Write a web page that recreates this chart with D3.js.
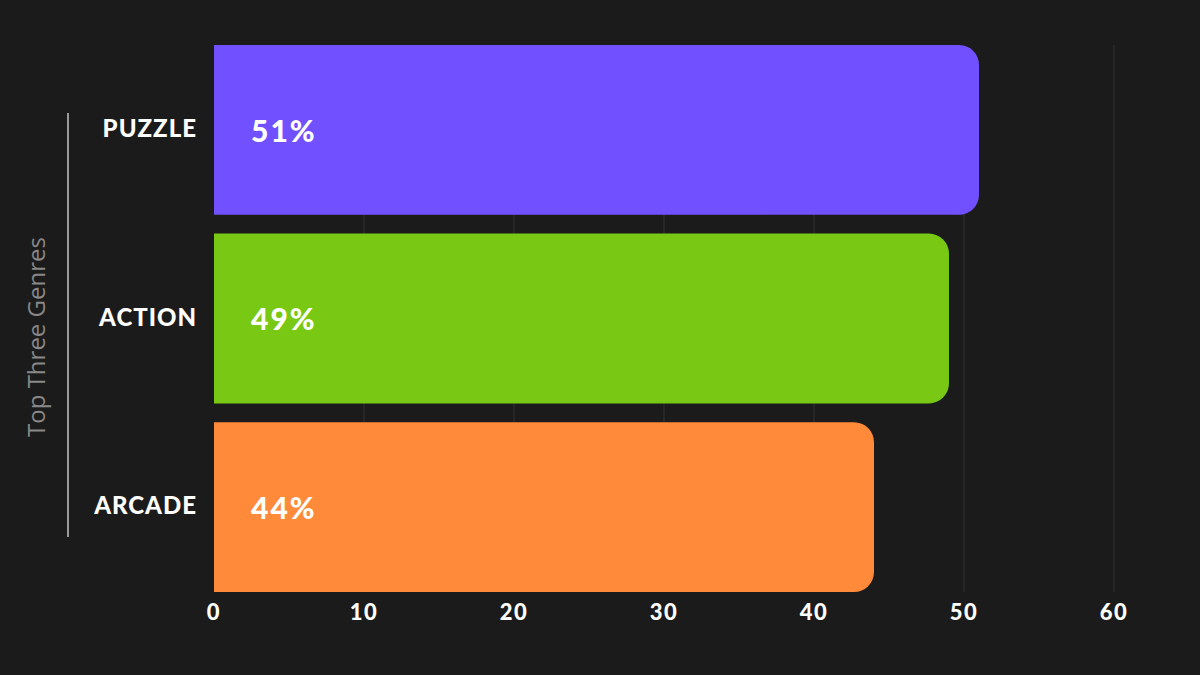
<!DOCTYPE html>
<html><head><meta charset="utf-8">
<script src="https://cdn.jsdelivr.net/npm/d3@7"></script>
<style>html,body{margin:0;padding:0;background:#1b1b1b;}svg{display:block;}</style>
</head><body>
<svg id="c" width="1200" height="675"></svg>
<script>
const categories = ["PUZZLE", "ACTION", "ARCADE"];
const values = [51, 49, 44];
const colors = ["#7151ff", "#78c814", "#ff8a3a"];
const xTicks = [0, 10, 20, 30, 40, 50, 60];
const axisTitle = "Top Three Genres";

const svg = d3.select("#c");
svg.append("rect").attr("width",1200).attr("height",675).attr("fill","#1b1b1b");
const m = {left:214, right:86, top:45, bottom:83};
const W = 1200, H = 675;
const x = d3.scaleLinear().domain([0,60]).range([m.left, W-m.right]);
const y = d3.scaleBand().domain(categories).range([m.top, H-m.bottom]).paddingInner(0.1).paddingOuter(0);

// grid
svg.append("g").selectAll("line").data(xTicks.filter(t=>t>0)).join("line")
  .attr("x1",d=>x(d)).attr("x2",d=>x(d)).attr("y1",m.top).attr("y2",H-m.bottom)
  .attr("stroke","#333").attr("stroke-width",1);

// bars with rounded right corners
const r = 20;
function barPath(d,i){
  const x0 = x(0), x1 = x(values[i]), y0 = y(d), h = y.bandwidth();
  return `M${x0},${y0}H${x1-r}A${r},${r} 0 0 1 ${x1},${y0+r}V${y0+h-r}A${r},${r} 0 0 1 ${x1-r},${y0+h}H${x0}Z`;
}
svg.append("g").selectAll("path").data(categories).join("path")
  .attr("d",barPath).attr("fill",(d,i)=>colors[i]);

// value labels
svg.append("g").selectAll("text").data(categories).join("text")
  .attr("x",x(0)+37).attr("y",d=>y(d)+y.bandwidth()/2+4)
  .attr("dominant-baseline","middle")
  .attr("fill","#fff").attr("font-family","Lato, sans-serif").attr("font-weight",900)
  .attr("font-size",30).attr("letter-spacing",2).text((d,i)=>values[i]+"%");

// category labels
svg.append("g").selectAll("text").data(categories).join("text")
  .attr("x",197).attr("y",d=>y(d)+y.bandwidth()/2+1)
  .attr("text-anchor","end").attr("dominant-baseline","middle")
  .attr("fill","#fff").attr("font-family","Lato, sans-serif").attr("font-weight",900)
  .attr("font-size",24).attr("letter-spacing",1).text(d=>d);

// x tick labels
svg.append("g").selectAll("text").data(xTicks).join("text")
  .attr("x",d=>x(d)).attr("y",614).attr("text-anchor","middle").attr("dominant-baseline","middle")
  .attr("fill","#fff").attr("font-family","Lato, sans-serif").attr("font-weight",900)
  .attr("font-size",22).attr("letter-spacing",1.5).text(d=>d);

// left bracket line and title
svg.append("line").attr("x1",68).attr("x2",68).attr("y1",113).attr("y2",537)
  .attr("stroke","#999").attr("stroke-width",2);
svg.append("text").attr("transform","translate(39,337) rotate(-90)")
  .attr("text-anchor","middle").attr("dominant-baseline","middle")
  .attr("fill","#888").attr("font-family","'Open Sans', sans-serif").attr("font-size",24)
  .text(axisTitle);
</script>
</body></html>
